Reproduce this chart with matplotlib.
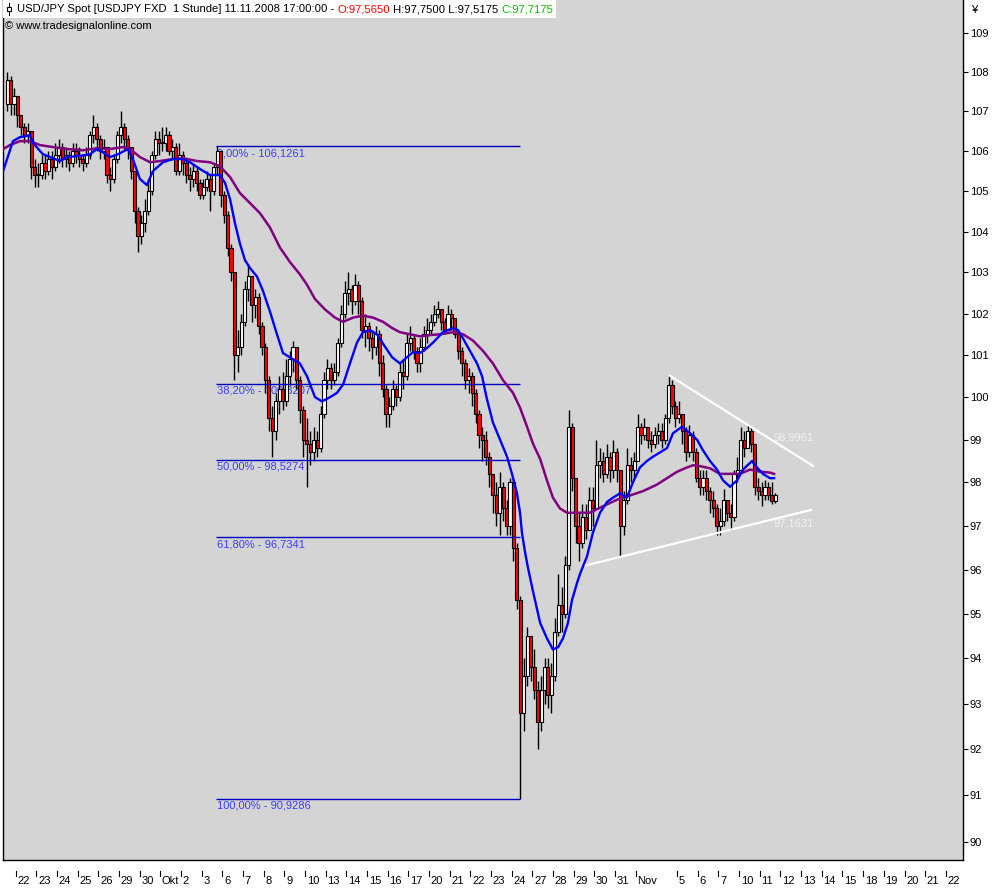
import matplotlib
matplotlib.use("Agg")
import matplotlib.pyplot as plt
from matplotlib.patches import Rectangle
from matplotlib.lines import Line2D
from matplotlib.ticker import FixedLocator, NullLocator, FuncFormatter, NullFormatter
import numpy as np

plt.rcParams['font.family'] = ['Liberation Sans', 'DejaVu Sans']

# 4h-Kerzen, Fr 19.09. 12:00 bis Di 11.11. 17:00 (x = Handelstage, 0 = Mo 22.09.)
first_open = 107.2
closes = [
    107.8, 107.2, 107.4,                        # 19.09.
    106.9, 106.6, 106.4, 106.5, 105.6, 105.4,   # 22.09.
    105.4, 105.7, 105.5, 105.8, 105.6, 105.9,
    106.1, 105.8, 105.9, 105.7, 106.0, 105.9,
    105.8, 105.7, 105.9, 106.4, 106.6, 106.3,
    106.0, 106.1, 105.4, 105.3, 105.8, 106.4,
    106.6, 106.3, 106.1, 105.5, 104.5, 103.9,   # 29.09.
    104.2, 104.5, 105.0, 105.9, 106.3, 106.2,
    106.2, 106.4, 106.0, 106.1, 105.5, 105.9,   # 01.10.
    105.7, 105.4, 105.3, 105.5, 105.2, 104.9,
    105.1, 105.3, 105.0, 105.6, 106.0, 104.9,
    104.4, 103.6, 103.0, 101.0, 101.2, 101.8,   # 06.10.
    102.6, 102.9, 102.2, 102.4, 101.7, 101.2,
    100.4, 99.5, 99.2, 99.9, 100.2, 99.9,
    100.5, 100.9, 101.2, 100.4, 99.7, 99.0,
    98.9, 98.7, 99.0, 98.8, 99.6, 100.4,
    100.7, 100.4, 100.6, 101.3, 102.0, 102.5,   # 13.10.
    102.6, 102.3, 102.7, 102.3, 101.6, 101.7,
    101.4, 101.2, 101.5, 100.8, 100.2, 99.6,
    99.8, 100.2, 100.0, 100.6, 100.5, 101.3,
    101.4, 101.1, 100.8, 101.2, 101.5, 101.6,
    101.8, 102.0, 102.1, 101.8, 101.6, 102.0,   # 20.10.
    101.9, 101.5, 101.1, 100.8, 100.4, 100.5,
    100.1, 99.6, 99.1, 99.0, 98.6, 98.2,
    97.7, 97.3, 97.9, 97.4, 97.0, 98.0,
    96.5, 95.3, 92.8, 93.6, 94.5, 93.8,
    93.3, 92.6, 93.3, 93.8, 93.2, 93.6,         # 27.10.
    94.6, 95.2, 95.0, 96.1, 99.3, 98.1,
    97.0, 96.6, 97.2, 96.9, 97.6, 97.4,
    98.4, 98.5, 98.2, 98.6, 98.3, 98.7,
    98.3, 97.0, 97.6, 98.4, 98.3, 98.5,
    99.3, 99.1, 99.3, 99.0, 98.9, 99.1,         # 03.11.
    99.2, 99.0, 99.5, 100.3, 99.8, 99.5,
    99.6, 99.2, 98.7, 99.1, 98.7, 98.1,
    97.9, 98.1, 97.8, 97.6, 97.4, 97.0,
    97.1, 97.6, 97.3, 97.2, 98.2, 98.3,
    99.0, 98.8, 99.2, 98.9, 97.9, 97.8,         # 10.11.
    97.7, 97.9, 97.7, 97.565, 97.7175,
]
highs = [
    108.0, 107.9, 107.6,
    107.4, 106.9, 106.7, 106.7, 106.5, 105.8,
    105.7, 105.9, 105.9, 106.0, 106.0, 106.2,
    106.3, 106.2, 106.1, 106.0, 106.2, 106.2,
    106.1, 105.9, 106.1, 106.5, 106.9, 106.7,
    106.4, 106.3, 106.1, 105.6, 105.9, 106.5,
    107.0, 106.7, 106.4, 106.1, 105.5, 104.6,
    104.4, 104.8, 105.3, 106.0, 106.5, 106.5,
    106.6, 106.6, 106.5, 106.3, 106.2, 106.2,
    106.0, 105.8, 105.6, 105.7, 105.6, 105.3,
    105.3, 105.5, 105.4, 105.7, 106.13, 106.0,
    105.0, 104.5, 103.7, 103.0, 101.6, 102.0,
    102.8, 103.2, 102.9, 102.6, 102.5, 101.8,
    101.3, 100.5, 99.8, 100.1, 100.5, 100.6,
    100.9, 101.1, 101.35, 101.2, 100.5, 99.8,
    99.5, 99.2, 99.3, 99.2, 99.8, 100.6,
    100.9, 100.8, 100.8, 101.4, 102.2, 102.8,
    103.0, 102.7, 102.95, 102.8, 102.4, 102.0,
    101.8, 101.6, 101.7, 101.6, 101.0, 100.3,
    100.0, 100.4, 100.3, 100.8, 100.9, 101.5,
    101.7, 101.5, 101.2, 101.4, 101.7, 101.9,
    102.0, 102.2, 102.3, 102.1, 101.9, 102.2,
    102.1, 101.9, 101.6, 101.2, 100.9, 100.7,
    100.6, 100.2, 99.7, 99.3, 99.2, 98.7,
    98.1, 98.0, 98.25, 98.0, 97.6, 98.1,
    98.1, 96.6, 95.4, 94.0, 94.7, 94.5,
    94.2, 93.5, 93.6, 94.0, 94.0, 93.9,
    94.9, 95.9, 95.6, 96.3, 99.7, 99.4,
    98.0, 97.3, 97.5, 97.5, 97.9, 97.9,
    99.0, 98.8, 98.7, 98.9, 98.7, 99.0,
    98.8, 98.3, 97.8, 98.8, 98.6, 98.7,
    99.6, 99.4, 99.5, 99.3, 99.2, 99.3,
    99.4, 99.4, 99.6, 100.5, 100.4, 99.9,
    99.9, 99.6, 99.3, 99.35, 99.2, 98.8,
    98.3, 98.3, 98.3, 97.9, 97.8, 97.5,
    97.4, 97.85, 97.6, 97.5, 98.3, 98.6,
    99.3, 99.2, 99.35, 99.3, 98.9, 98.1,
    98.0, 98.05, 98.0, 98.0, 97.75,
]
lows = [
    107.0, 106.9, 106.9,
    106.6, 106.4, 106.2, 106.2, 105.3, 105.1,
    105.1, 105.3, 105.3, 105.4, 105.3, 105.5,
    105.7, 105.6, 105.6, 105.5, 105.6, 105.7,
    105.6, 105.5, 105.6, 105.8, 106.2, 106.0,
    105.8, 105.8, 105.2, 105.0, 105.2, 105.7,
    106.2, 106.0, 105.8, 105.3, 104.2, 103.5,
    103.7, 104.0, 104.4, 104.9, 105.8, 105.9,
    106.0, 106.0, 105.9, 105.8, 105.4, 105.4,
    105.4, 105.2, 105.0, 105.1, 105.0, 104.8,
    104.8, 105.0, 104.5, 104.9, 105.4, 104.6,
    104.2, 103.4, 102.8, 100.4, 100.6, 101.0,
    101.7, 102.3, 101.8, 101.9, 101.5, 101.0,
    100.1, 99.2, 98.6, 99.0, 99.6, 99.7,
    99.8, 100.3, 100.6, 100.2, 99.4, 98.6,
    97.9, 98.4, 98.5, 98.6, 98.7, 99.5,
    100.2, 100.2, 100.3, 100.5, 101.2, 101.9,
    102.2, 102.0, 102.2, 102.0, 101.4, 101.2,
    101.1, 100.9, 101.0, 100.5, 100.0, 99.3,
    99.3, 99.7, 99.8, 99.9, 100.2, 100.4,
    101.1, 100.9, 100.6, 100.6, 101.1, 101.3,
    101.5, 101.7, 101.9, 101.6, 101.5, 101.6,
    101.6, 101.4, 100.9, 100.5, 100.2, 100.1,
    99.8, 99.4, 98.8, 98.5, 98.4, 97.9,
    97.3, 97.0, 96.8, 97.1, 96.8, 96.8,
    96.2, 95.1, 90.93, 92.4, 93.4, 93.5,
    93.1, 92.0, 92.4, 93.0, 92.9, 92.8,
    93.5, 94.5, 94.6, 94.9, 96.0, 97.8,
    96.6, 96.2, 96.5, 96.7, 96.9, 97.0,
    97.4, 98.1, 98.0, 98.1, 98.0, 98.1,
    98.0, 96.3, 96.8, 97.5, 98.0, 98.1,
    98.6, 98.9, 99.0, 98.8, 98.7, 98.8,
    98.9, 98.8, 98.9, 99.4, 99.6, 99.3,
    99.4, 98.9, 98.5, 98.6, 98.5, 98.0,
    97.7, 97.7, 97.6, 97.3, 97.2, 96.8,
    96.8, 97.0, 97.1, 96.9, 97.1, 98.0,
    98.3, 98.6, 98.8, 98.7, 97.7, 97.6,
    97.45, 97.6, 97.6, 97.5, 97.5175,
]

# gleitende Durchschnitte
ma_fast_t = [-0.61, -0.13, 0.21, 0.69, 0.84, 1.32, 2.14, 2.48, 3.11, 3.59, 3.93, 4.22, 4.56, 4.95, 5.43,
             5.67, 6.01, 6.35, 6.64, 7.13, 7.61, 8.04, 8.43, 8.92, 9.40, 9.88, 10.13, 10.37, 10.61,
             10.85, 11.09, 11.34, 11.67, 11.96, 12.30, 12.64, 12.93, 13.42, 13.75, 14.09, 14.48, 14.82,
             15.21, 15.54, 15.84, 16.17, 16.51, 16.80, 17.14, 17.48, 17.87, 18.21, 18.59, 18.93, 19.22,
             19.56, 19.90, 20.19, 20.67, 21.16, 21.40, 21.64, 21.98, 22.32, 22.56, 22.80, 23.09, 23.43,
             23.77, 24.01, 24.25, 24.40, 24.49, 24.64, 24.78, 25.03, 25.37, 25.70, 25.99, 26.24, 26.48,
             26.72, 26.91, 27.16, 27.30, 27.64, 27.93, 28.27, 28.61, 28.90, 29.24, 29.57, 29.86, 30.20,
             30.54, 30.83, 31.17, 31.51, 31.80, 32.23, 32.62, 32.96, 33.25, 33.59, 33.93, 34.22, 34.56,
             34.90, 35.19, 35.62, 35.86, 36.15, 36.49, 36.69]
ma_fast = [105.5, 106.25, 106.35, 106.4, 106.2, 105.92, 105.75, 105.85, 105.88, 105.92, 106.05, 105.97,
           105.85, 105.92, 106.05, 105.8, 105.3, 105.15, 105.5, 105.72, 105.8, 105.8, 105.72, 105.55,
           105.4, 105.4, 105.2, 104.8, 104.2, 103.7, 103.3, 103.1, 102.9, 102.55, 102.05, 101.5, 101.05,
           100.9, 100.8, 100.5, 100.0, 99.9, 100.0, 100.1, 100.3, 100.8, 101.3, 101.55, 101.6, 101.5,
           101.2, 100.95, 100.8, 100.95, 101.07, 101.05, 101.17, 101.3, 101.55, 101.65, 101.6, 101.4,
           101.1, 100.8, 100.5, 99.95, 99.4, 99.0, 98.6, 98.2, 97.75, 97.3, 96.85, 96.4, 96.05, 95.5,
           94.8, 94.45, 94.2, 94.25, 94.45, 94.8, 95.3, 95.7, 95.9, 96.3, 96.85, 97.3, 97.55, 97.65,
           97.75, 97.65, 98.0, 98.35, 98.5, 98.6, 98.7, 98.8, 99.15, 99.3, 99.15, 99.0, 98.75, 98.5,
           98.3, 98.05, 97.9, 98.05, 98.3, 98.5, 98.35, 98.2, 98.1, 98.1]
ma_slow_t = [-0.61, -0.28, 0.21, 0.69, 1.18, 1.80, 2.48, 3.26, 3.93, 4.56, 5.19, 5.53, 6.01, 6.50, 6.98,
             7.61, 8.09, 8.77, 9.40, 9.88, 10.37, 10.85, 11.34, 11.82, 12.30, 12.79, 13.27, 13.75, 14.09,
             14.48, 14.96, 15.45, 15.84, 16.32, 16.80, 17.29, 17.77, 18.21, 18.59, 19.08, 19.56, 20.04,
             20.53, 21.16, 21.64, 22.12, 22.61, 23.09, 23.58, 24.06, 24.40, 24.74, 25.03, 25.37, 25.70,
             25.99, 26.33, 26.67, 27.06, 27.78, 28.41, 29.09, 29.72, 30.35, 31.02, 31.51, 32.00, 32.48,
             32.77, 33.11, 33.59, 34.07, 34.56, 35.04, 35.52, 36.01, 36.49, 36.69]
ma_slow = [106.05, 106.15, 106.25, 106.25, 106.15, 106.1, 106.05, 106.02, 106.07, 106.05, 106.1, 106.05,
           105.85, 105.72, 105.75, 105.8, 105.82, 105.75, 105.72, 105.62, 105.35, 104.95, 104.7, 104.45,
           104.1, 103.6, 103.25, 102.95, 102.7, 102.35, 102.1, 101.9, 101.8, 101.9, 101.95, 101.9, 101.8,
           101.65, 101.55, 101.5, 101.45, 101.48, 101.5, 101.55, 101.5, 101.35, 101.1, 100.8, 100.4,
           100.1, 99.75, 99.3, 98.9, 98.55, 98.05, 97.65, 97.4, 97.3, 97.3, 97.3, 97.45, 97.6, 97.7,
           97.8, 97.95, 98.1, 98.25, 98.35, 98.4, 98.38, 98.33, 98.2, 98.2, 98.2, 98.3, 98.25, 98.23, 98.2]

day_labels = ["22", "23", "24", "25", "26", "29", "30", "Okt", "2", "3", "6", "7", "8", "9", "10",
              "13", "14", "15", "16", "17", "20", "21", "22", "23", "24", "27", "28", "29", "30", "31",
              "Nov", "", "5", "6", "7", "10", "11", "12", "13", "14", "15", "18", "19", "20", "21", "22"]
price_ticks = list(range(90, 110))

# Fibonacci
fib_high = 106.12612
fib_low = 90.92864
fib_ratios = [0.0, 0.382, 0.5, 0.618, 1.0]
fib_start, fib_end = 9.69, 24.40

# Dreieck (weisse Trendlinien)
upper_t = [31.61, 38.62]
upper_v = [100.52, 98.37]
lower_t = [27.54, 38.52]
lower_v = [96.09, 97.37]

W, H = 999, 888
AX_BOTTOM = 860  # pixel
fig = plt.figure(figsize=(W / 100, H / 100), dpi=100, facecolor='white')
ax = fig.add_axes([3 / W, (H - AX_BOTTOM) / H, 960 / W, AX_BOTTOM / H])
ax.set_facecolor('#D4D4D4')
ax.set_yscale('log')
ax.set_ylim(89.62, 109.86)
ax.set_xlim(-0.614, 45.83)

# Kerzen
closes = np.array(closes)
highs = np.array(highs)
lows = np.array(lows)
n = len(closes)
t = -0.5 + (np.arange(n) + 0.5) / 6.0
opens = np.r_[first_open, closes[:-1]]
hi = np.maximum(highs, np.maximum(opens, closes))
lo = np.minimum(lows, np.minimum(opens, closes))
ax.vlines(t, lo, hi, color='black', lw=1.0, zorder=2)
body_lo = np.minimum(opens, closes)
body_h = np.maximum(np.abs(closes - opens), 0.03)
farben = np.where(closes >= opens, 'white', '#FF0000')
ax.bar(t, body_h, bottom=body_lo, width=0.15, color=farben, edgecolor='black', linewidth=0.8, zorder=2.5)

# Durchschnitte
ax.plot(ma_slow_t, ma_slow, color='#800080', lw=1.8, zorder=4)
ax.plot(ma_fast_t, ma_fast, color='#0000FF', lw=1.7, zorder=4.2)

# Fibonacci-Linien
for r in fib_ratios:
    lvl = fib_high - r * (fib_high - fib_low)
    ax.hlines(lvl, fib_start, fib_end, color='#0000C0', lw=1.0, zorder=3)
    txt = f"{r * 100:.2f}% - {lvl:.4f}".replace('.', ',')
    ax.annotate(txt, (fib_start, lvl), xytext=(0.5, -1.5), textcoords='offset points',
                ha='left', va='top', fontsize=8, color='#3C3CFF', zorder=1.5)

# Trendlinien
ax.plot(upper_t, upper_v, color='white', lw=1.6, zorder=5, solid_capstyle='butt')
ax.plot(lower_t, lower_v, color='white', lw=1.6, zorder=5, solid_capstyle='butt')
ax.text(36.64, 99.06, "98,9961", color='#F2F2F2', fontsize=8, va='center', ha='left', zorder=5)
ax.text(36.64, 97.05, "97,1631", color='#F2F2F2', fontsize=8, va='center', ha='left', zorder=5)

# Achsen
for s in ['left', 'bottom', 'right']:
    ax.spines[s].set_color('black')
    ax.spines[s].set_linewidth(1.0)
ax.spines['top'].set_visible(False)

ax.yaxis.set_major_locator(FixedLocator(price_ticks))
ax.yaxis.set_minor_locator(NullLocator())
ax.yaxis.set_minor_formatter(NullFormatter())
ax.yaxis.set_major_formatter(FuncFormatter(lambda v, p: f"{v:.0f}"))
ax.yaxis.tick_right()
ax.tick_params(axis='y', length=3.5, width=0.8, pad=1.5, labelsize=8, colors='black')

ax.set_xticks([])
xtrans = ax.get_xaxis_transform()
for d, lab in enumerate(day_labels):
    if not lab:
        continue
    ax.plot([d, d], [-11 / AX_BOTTOM, -16 / AX_BOTTOM], color='black', lw=0.8,
            transform=xtrans, clip_on=False)
    ax.text(d + 1.6 / 20.67, -21 / AX_BOTTOM, lab, transform=xtrans, ha='left', va='center',
            fontsize=8, clip_on=False)

# Kopfzeile
fig.text(972 / W, 1 - 10 / H, "\u00a5", fontsize=8, va='center', ha='left')
renderer = fig.canvas.get_renderer()
teile = [("USD/JPY Spot [USDJPY FXD  1 Stunde] 11.11.2008 17:00:00 - ", 'black'),
         ("O:97,5650", '#FF0000'),
         (" H:97,7500 L:97,5175 ", 'black'),
         ("C:97,7175", '#00C000')]
xpos = 17
for s, c in teile:
    tx = fig.text(xpos / W, 1 - 9 / H, s, color=c, fontsize=8.1, va='center', ha='left', zorder=11)
    bb = tx.get_window_extent(renderer=renderer)
    xpos = bb.x1
fig.add_artist(Rectangle((3 / W, 1 - 18 / H), xpos / W, 18 / H, transform=fig.transFigure,
                         facecolor='white', edgecolor='none', zorder=10))
fig.add_artist(Line2D([9 / W, 9 / W], [1 - 3 / H, 1 - 15 / H], transform=fig.transFigure,
                      color='black', lw=0.8, zorder=11))
fig.add_artist(Rectangle((7 / W, 1 - 11 / H), 4 / W, 4 / H, transform=fig.transFigure,
                         facecolor='white', edgecolor='black', lw=0.8, zorder=12))
fig.text(5 / W, 1 - 26 / H, "\u00a9 www.tradesignalonline.com", fontsize=8, va='center', ha='left')

fig.savefig("out.png", dpi=100, facecolor='white')
